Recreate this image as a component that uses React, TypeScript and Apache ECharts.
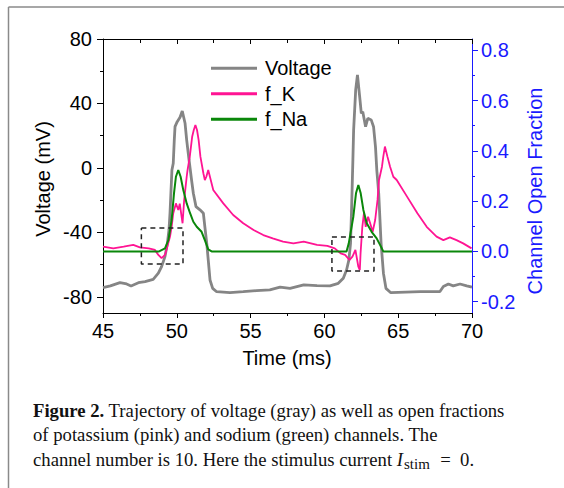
import React, { useEffect, useRef } from "react";
import * as echarts from "echarts";

// ---- Data ----
const timeV = [45.0, 45.5, 46.15, 46.6, 46.9, 47.4, 47.85, 48.4, 48.75, 48.97, 49.2, 49.36, 49.47, 49.54, 49.6, 49.67, 49.76, 49.83, 49.88, 50.03, 50.22, 50.37, 50.56, 50.67, 50.83, 51.0, 51.12, 51.3, 51.57, 51.8, 51.9, 52.03, 52.13, 52.25, 52.43, 52.7, 53.6, 54.5, 55.4, 56.3, 57.0, 57.67, 58.6, 59.5, 60.38, 60.94, 61.28, 61.5, 61.66, 61.77, 61.84, 61.9, 61.93, 61.98, 62.12, 62.24, 62.39, 62.5, 62.6, 62.79, 62.94, 63.17, 63.33, 63.46, 63.55, 63.68, 63.84, 64.0, 64.17, 64.5, 65.5, 66.5, 67.83, 68.06, 68.4, 68.73, 69.19, 69.64, 70.0];
const voltage = [-74.3, -73.2, -71.2, -72, -73.2, -71.2, -70.5, -69.1, -65.3, -61.2, -55, -46.8, -38.5, -28, -15.7, -1.3, 2.9, 17.3, 25.6, 28.7, 31.4, 35.3, 27.7, 17.3, 4.9, -7.5, -15.7, -24, -26, -28.1, -36.4, -46.8, -57.1, -69.5, -74.7, -76.8, -77.4, -76.8, -76.1, -75.7, -74, -74.7, -72.6, -73, -73.2, -71.6, -68.4, -63.3, -57, -46.8, -26, -5.4, 4.9, 23.5, 48.4, 57.7, 44.2, 33.9, 34.9, 25.6, 30.8, 29.8, 25.6, 13.2, -1.3, -15.7, -46.8, -65.3, -74.7, -77.4, -77, -76.8, -76.7, -73.6, -72, -73.2, -72, -73.2, -74];

const timeK = [45.0, 45.7, 46.4, 47.05, 47.5, 48.1, 48.52, 48.75, 48.97, 49.2, 49.36, 49.54, 49.65, 49.76, 49.94, 50.1, 50.2, 50.39, 50.5, 50.67, 50.73, 50.88, 51.04, 51.15, 51.26, 51.37, 51.48, 51.6, 51.8, 51.9, 52.0, 52.13, 52.47, 53.15, 53.82, 54.5, 55.2, 55.86, 56.5, 57.2, 57.9, 58.6, 59.5, 60.2, 60.7, 61.1, 61.4, 61.7, 61.9, 62.1, 62.3, 62.4, 62.45, 62.57, 62.68, 62.8, 62.96, 63.1, 63.27, 63.44, 63.6, 63.7, 63.9, 63.99, 64.1, 64.27, 64.45, 64.67, 64.9, 65.6, 66.3, 66.93, 67.6, 68.06, 68.5, 68.95, 69.4, 69.97];
const fK = [0.019, 0.012, 0.019, 0.026, 0.016, 0.012, 0.006, -0.014, -0.027, -0.014, 0.019, 0.059, 0.098, 0.152, 0.191, 0.165, 0.19, 0.112, 0.205, 0.297, 0.324, 0.377, 0.456, 0.483, 0.503, 0.483, 0.443, 0.377, 0.311, 0.284, 0.297, 0.324, 0.244, 0.191, 0.145, 0.112, 0.085, 0.065, 0.052, 0.039, 0.032, 0.039, 0.026, 0.022, 0.012, -0.008, -0.014, -0.034, -0.021, 0.006, -0.061, -0.074, -0.008, 0.098, 0.152, 0.098, 0.138, 0.112, 0.078, 0.125, 0.205, 0.284, 0.337, 0.377, 0.417, 0.377, 0.337, 0.297, 0.284, 0.218, 0.152, 0.098, 0.059, 0.045, 0.056, 0.045, 0.032, 0.012];

const timeNa = [45.0, 48.8, 49.2, 49.43, 49.65, 49.81, 49.94, 50.1, 50.26, 50.44, 50.67, 50.9, 51.12, 51.35, 51.68, 51.9, 52.13, 52.36, 61.5, 61.65, 61.96, 62.14, 62.3, 62.46, 62.64, 62.87, 63.2, 63.54, 63.77, 63.99, 70.0];
const fNa = [0, 0, 0.012, 0.045, 0.125, 0.231, 0.297, 0.324, 0.297, 0.244, 0.191, 0.152, 0.118, 0.098, 0.078, 0.045, 0.008, 0, 0, 0.032, 0.138, 0.231, 0.264, 0.231, 0.165, 0.112, 0.078, 0.052, 0.026, 0, 0];

const xTicks = [45, 50, 55, 60, 65, 70];
const vTicks = [-80, -40, 0, 40, 80];
const vMinorTicks = [-60, -20, 20, 60];
const fTicks = [-0.2, 0, 0.2, 0.4, 0.6, 0.8];
const fMinorTicks = [-0.1, 0.1, 0.3, 0.5, 0.7];

const box1T = [47.6, 50.42];
const box1V = [-37.2, -59.6];
const box2T = [60.51, 63.36];
const box2V = [-42.8, -63.9];

const seriesNames = ["Voltage", "f_K", "f_Na"];

const zip = (a: number[], b: number[]) => a.map((v, i) => [v, b[i]]);
const rectPath = (t: number[], v: number[]) => [
  [t[0], v[0]], [t[1], v[0]], [t[1], v[1]], [t[0], v[1]], [t[0], v[0]],
];

const SANS = "'Liberation Sans', Arial, sans-serif";
const SERIF = "'Liberation Serif', 'Times New Roman', serif";
const BLUE = "#1a1aff";
const CAP = 18.7;

export default function App() {
  const ref = useRef<HTMLDivElement>(null);
  useEffect(() => {
    if (!ref.current) return;
    const chart = echarts.init(ref.current, undefined, { renderer: "svg" });
    const xMin = 45, xMax = 70, vMin = -90, vMax = 80, fMin = -0.245, fMax = 0.845;
    const option: any = {
      animation: false,
      backgroundColor: "#fff",
      grid: { left: 103, right: 92, top: 39, bottom: 175, containLabel: false },
      legend: {
        orient: "vertical",
        left: 211,
        top: 58,
        padding: 0,
        itemWidth: 46,
        itemHeight: 3,
        itemGap: 5,
        icon: "rect",
        data: seriesNames,
        textStyle: { fontSize: 20, fontFamily: SANS, color: "#000", lineHeight: 20.5, padding: [0, 0, 0, 3] },
      },
      xAxis: [
        {
          type: "value", min: xMin, max: xMax, interval: 5, position: "bottom",
          axisLine: { show: true, onZero: false, lineStyle: { color: "#000", width: 1 } },
          axisTick: { show: true, length: 5, lineStyle: { color: "#000" } },
          minorTick: { show: true, splitNumber: 2, length: 3, lineStyle: { color: "#000" } },
          axisLabel: { fontSize: 20, fontFamily: SANS, color: "#000", margin: 8, customValues: xTicks },
          splitLine: { show: false },
        },
        {
          type: "value", min: xMin, max: xMax, interval: 5, position: "top",
          axisLine: { show: true, onZero: false, lineStyle: { color: "#000", width: 1 } },
          axisTick: { show: true, inside: true, length: 5, lineStyle: { color: "#000" } },
          minorTick: { show: true, splitNumber: 2, length: 4, lineStyle: { color: "#000" } },
          axisLabel: { show: false },
          splitLine: { show: false },
        },
      ],
      yAxis: [
        {
          type: "value", min: vMin, max: vMax, position: "left",
          axisLine: { show: true, onZero: false, lineStyle: { color: "#000", width: 1 } },
          axisTick: { show: true, length: 6, customValues: vTicks, lineStyle: { color: "#000" } },
          axisLabel: { fontSize: 20, fontFamily: SANS, color: "#000", margin: 11, customValues: vTicks },
          splitLine: { show: false },
        },
        {
          type: "value", min: fMin, max: fMax, position: "right",
          axisLine: { show: true, onZero: false, lineStyle: { color: BLUE, width: 1 } },
          axisTick: { show: true, length: 6, customValues: fTicks, lineStyle: { color: BLUE } },
          axisLabel: {
            fontSize: 20, fontFamily: SANS, color: BLUE, margin: 9, customValues: fTicks,
            formatter: (v: number) => v.toFixed(1),
          },
          splitLine: { show: false },
        },
        {
          type: "value", min: vMin, max: vMax, position: "left",
          axisLine: { show: false, onZero: false },
          axisTick: { show: true, length: 3, customValues: vMinorTicks, lineStyle: { color: "#000" } },
          axisLabel: { show: false },
          splitLine: { show: false },
        },
        {
          type: "value", min: fMin, max: fMax, position: "right",
          axisLine: { show: false, onZero: false },
          axisTick: { show: true, length: 3, customValues: fMinorTicks, lineStyle: { color: BLUE } },
          axisLabel: { show: false },
          splitLine: { show: false },
        },
      ],
      series: [
        {
          name: "Voltage", type: "line", xAxisIndex: 0, yAxisIndex: 0, data: zip(timeV, voltage),
          showSymbol: false, symbol: "none", color: "#858585",
          lineStyle: { color: "#858585", width: 2.8 },
        },
        {
          name: "f_K", type: "line", xAxisIndex: 0, yAxisIndex: 1, data: zip(timeK, fK),
          showSymbol: false, symbol: "none", color: "#ff1493",
          lineStyle: { color: "#ff1493", width: 1.8 },
        },
        {
          name: "f_Na", type: "line", xAxisIndex: 0, yAxisIndex: 1, data: zip(timeNa, fNa),
          showSymbol: false, symbol: "none", color: "#0a870a",
          lineStyle: { color: "#0a870a", width: 2 },
        },
        {
          name: "box1", type: "line", xAxisIndex: 0, yAxisIndex: 0, data: rectPath(box1T, box1V),
          showSymbol: false, symbol: "none", lineStyle: { color: "#222", width: 1.5, type: [5, 4] },
        },
        {
          name: "box2", type: "line", xAxisIndex: 0, yAxisIndex: 0, data: rectPath(box2T, box2V),
          showSymbol: false, symbol: "none", lineStyle: { color: "#222", width: 1.5, type: [5, 4] },
        },
      ],
      graphic: [
        { type: "line", shape: { x1: 8.5, y1: 7, x2: 8.5, y2: 488 }, style: { stroke: "#8a8a8a", lineWidth: 1.5 } },
        { type: "line", shape: { x1: 8.5, y1: 7, x2: 564, y2: 7 }, style: { stroke: "#8a8a8a", lineWidth: 1.5 } },
        {
          type: "text", x: 43, y: 179, rotation: Math.PI / 2,
          style: { text: "Voltage (mV)", font: `20px ${SANS}`, fill: "#000", align: "center", verticalAlign: "middle" },
        },
        {
          type: "text", x: 535, y: 191, rotation: Math.PI / 2,
          style: { text: "Channel Open Fraction", font: `20px ${SANS}`, fill: BLUE, align: "center", verticalAlign: "middle" },
        },
        {
          type: "text", x: 287, y: 358,
          style: { text: "Time (ms)", font: `20px ${SANS}`, fill: "#000", align: "center", verticalAlign: "middle" },
        },
        {
          type: "text", x: 33, y: 410,
          style: {
            text: "{b|Figure 2.} Trajectory of voltage (gray) as well as open fractions",
            font: `${CAP}px ${SERIF}`, fill: "#111", align: "left", verticalAlign: "middle",
            rich: { b: { fontWeight: "bold", fontSize: CAP, fontFamily: SERIF, fill: "#111" } },
          },
        },
        {
          type: "text", x: 33, y: 434.5,
          style: {
            text: "of potassium (pink) and sodium (green) channels. The",
            font: `${CAP}px ${SERIF}`, fill: "#111", align: "left", verticalAlign: "middle",
          },
        },
        {
          type: "text", x: 33, y: 459,
          style: {
            text: "channel number is 10. Here the stimulus current {i|I}{s|stim}{n|\u2002=\u20020.}",
            font: `${CAP}px ${SERIF}`, fill: "#111", align: "left", verticalAlign: "middle",
            rich: {
              i: { fontStyle: "italic", fontSize: CAP, fontFamily: SERIF, fill: "#111" },
              s: { fontSize: 15, fontFamily: SERIF, fill: "#111", padding: [9, 1, 0, 1] },
              n: { fontSize: CAP, fontFamily: SERIF, fill: "#111" },
            },
          },
        },
      ],
    };
    chart.setOption(option);
    return () => chart.dispose();
  }, []);
  return (
    <div
      ref={ref}
      style={{ position: "absolute", left: 0, top: 0, width: 564, height: 488, background: "#fff" }}
    />
  );
}
